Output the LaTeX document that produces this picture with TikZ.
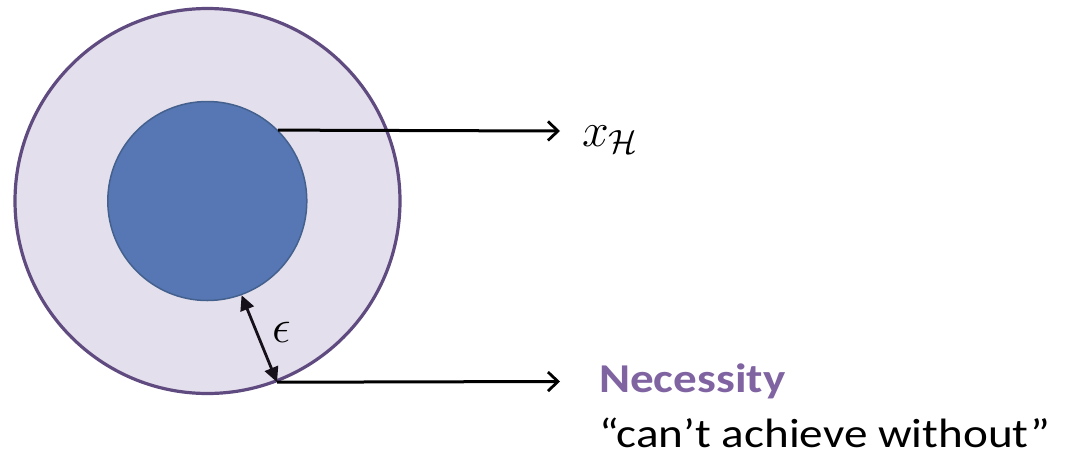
\RequirePackage{fix-cm}
\documentclass[tikz,border=0pt]{standalone}
\usepackage{fontspec}
\setmainfont{Carlito}
\usetikzlibrary{arrows.meta}
\definecolor{outerfill}{HTML}{E4DFEC}
\definecolor{outerdraw}{HTML}{5F4B7F}
\definecolor{innerfill}{HTML}{5677B4}
\definecolor{innerdraw}{HTML}{44618E}
\definecolor{necess}{HTML}{8064A2}
\definecolor{ink}{HTML}{151019}
\tikzset{
  conn/.style={line width=3pt, draw=black, -{Straight Barb[length=10pt,width=19pt,line width=2.8pt]}},
  gap/.style={line width=2.8pt, draw=ink, {Triangle[length=15pt,width=14pt]}-{Triangle[length=15pt,width=14pt]}},
  lbl/.style={anchor=base west, inner sep=0pt}
}
\begin{document}
\begin{tikzpicture}[x=1pt,y=-1pt]
\useasboundingbox (0,0) rectangle (1065,456);
\node[circle, fill=outerfill, draw=outerdraw, line width=3.2pt, minimum size=385pt, inner sep=0pt] (outer) at (207.5,201) {};
\node[circle, fill=innerfill, draw=innerdraw, line width=1.5pt, minimum size=199pt, inner sep=0pt] (inner) at (207.3,201) {};
\coordinate (e1) at (560,131);
\coordinate (e2) at (560,381.5);
\draw[conn] (inner.45) -- (e1);
\draw[conn] (outer.-69) -- (e2);
\draw[gap] (inner.-70) -- (outer.-69);
\node[lbl, font=\fontsize{48}{56}\selectfont] (xh) at (582,146.5) {$x_{\mathcal{H}}$};
\node[lbl, font=\fontsize{47}{50}\selectfont] (eps) at (272,342) {$\epsilon$};
\node[lbl, font=\fontsize{41}{46}\selectfont\bfseries, text=necess] (nec) at (599,392) {\scalebox{1.15}[1]{Necessity}};
\node[lbl, text depth=0pt, font=\fontsize{41}{46}\selectfont] (can) at (599,447) {\scalebox{1.15}[1]{“can’t achieve without”}};
\end{tikzpicture}
\end{document}
